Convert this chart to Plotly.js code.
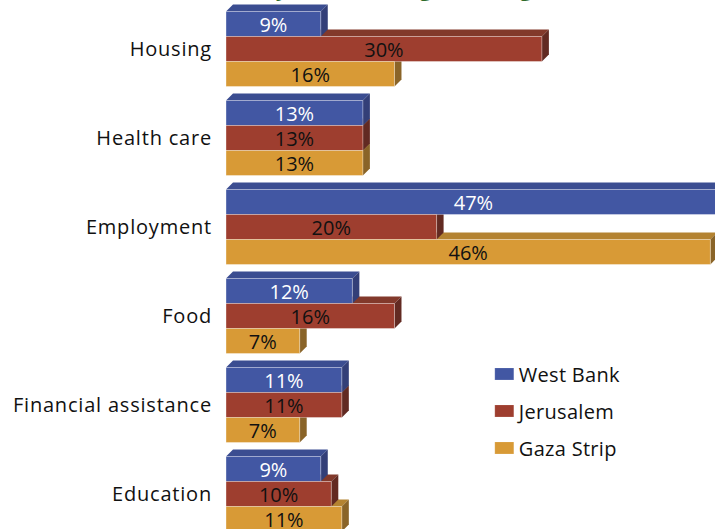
<!DOCTYPE html>
<html>
<head>
<meta charset="utf-8">
<script src="https://cdn.plot.ly/plotly-3.0.1.min.js"></script>
<style>
html,body{margin:0;padding:0;background:#fff;}
#chart{width:715px;height:529px;}
#chart .ytick text{letter-spacing:0.8px;}
#chart .legendtext{letter-spacing:0.3px;}
</style>
</head>
<body>
<div id="chart"></div>
<script>
const categories = ['Housing', 'Health care', 'Employment', 'Food', 'Financial assistance', 'Education'];
const westBank = [9, 13, 47, 12, 11, 9];
const jerusalem = [30, 13, 20, 16, 11, 10];
const gazaStrip = [16, 13, 46, 7, 7, 11];
const seriesNames = ['West Bank', 'Jerusalem', 'Gaza Strip'];
const titleText = 'Most needed assistance by area and region and gender';

const seriesValues = [westBank, jerusalem, gazaStrip];
const frontColors = ['#4257a3', '#9e3e2f', '#d89a36'];
const topColors = ['#3b4d91', '#82392b', '#b48331'];
const sideColors = ['#333f78', '#622a22', '#8a6428'];
const textColors = ['#ffffff', '#111111', '#111111'];

const idx = categories.map((c, i) => i);
const barW = 25 / 89;
const depthX = 0.665, depthY = 0.079;

const traces = [];
seriesValues.forEach((vals, k) => {
  traces.push({
    type: 'bar', orientation: 'h', name: seriesNames[k],
    x: vals, y: idx, width: barW, offset: -1.5 * barW + k * barW,
    marker: {color: frontColors[k], line: {color: 'rgba(255,255,255,0.35)', width: 1}},
    textposition: 'none', legendgroup: 'g' + k, hoverinfo: 'skip'
  });
});
seriesValues.forEach((vals, k) => {
  traces.push({
    type: 'scatter', mode: 'text', showlegend: false, hoverinfo: 'skip',
    x: vals.map(v => v / 2), y: idx.map(i => i - barW + k * barW + 0.035),
    text: vals.map(v => v + '%'), textposition: 'middle center',
    textfont: {family: 'Open Sans, sans-serif', size: 20, color: textColors[k]},
    cliponaxis: false
  });
});

const shapes = [];
[2, 1, 0].forEach(k => {
  seriesValues[k].forEach((v, i) => {
    const top = i - 1.5 * barW + k * barW;
    const bot = top + barW;
    shapes.push({type: 'path', xref: 'x', yref: 'y', layer: 'below', line: {width: 0},
      fillcolor: topColors[k],
      path: `M0,${top} L${v},${top} L${v + depthX},${top - depthY} L${depthX},${top - depthY} Z`});
    shapes.push({type: 'path', xref: 'x', yref: 'y', layer: 'below', line: {width: 0},
      fillcolor: sideColors[k],
      path: `M${v},${top} L${v + depthX},${top - depthY} L${v + depthX},${bot - depthY} L${v},${bot} Z`});
  });
});

const layout = {
  width: 715, height: 529,
  margin: {l: 226, r: 0, t: 0, b: 0, pad: 0},
  paper_bgcolor: '#ffffff', plot_bgcolor: '#ffffff',
  barmode: 'overlay',
  showlegend: true,
  font: {family: 'Open Sans, sans-serif', color: '#111111'},
  xaxis: {range: [0, 46.44], visible: false, fixedrange: true},
  yaxis: {range: [5.393, -0.5506], tickvals: idx, ticktext: categories,
    showgrid: false, zeroline: false, showline: false,
    ticks: 'outside', ticklen: 9, tickcolor: 'rgba(0,0,0,0)',
    tickfont: {family: 'Open Sans, sans-serif', size: 20, color: '#111111'}},
  legend: {x: 0.517, y: 0.33, xanchor: 'left', yanchor: 'top',
    traceorder: 'grouped', tracegroupgap: 8,
    font: {family: 'Open Sans, sans-serif', size: 20, color: '#111111'},
    bgcolor: 'rgba(0,0,0,0)'},
  shapes: shapes,
  annotations: [{text: '<b>' + titleText + '</b>', xref: 'paper', yref: 'paper',
    x: -0.479, y: 1, xanchor: 'left', yanchor: 'bottom', yshift: -4.5, showarrow: false,
    font: {family: 'Open Sans, sans-serif', size: 22, color: '#2e6b2a'}}]
};

function widenSwatches() {
  document.querySelectorAll('#chart .legendpoints path').forEach(p => {
    p.setAttribute('d', 'M15,6H-4V-6H15Z');
    p.style.strokeWidth = '1px';
    p.style.stroke = 'rgba(255,255,255,0.45)';
  });
}

Plotly.newPlot('chart', traces, layout, {displayModeBar: false, staticPlot: true}).then(widenSwatches);
</script>
</body>
</html>
